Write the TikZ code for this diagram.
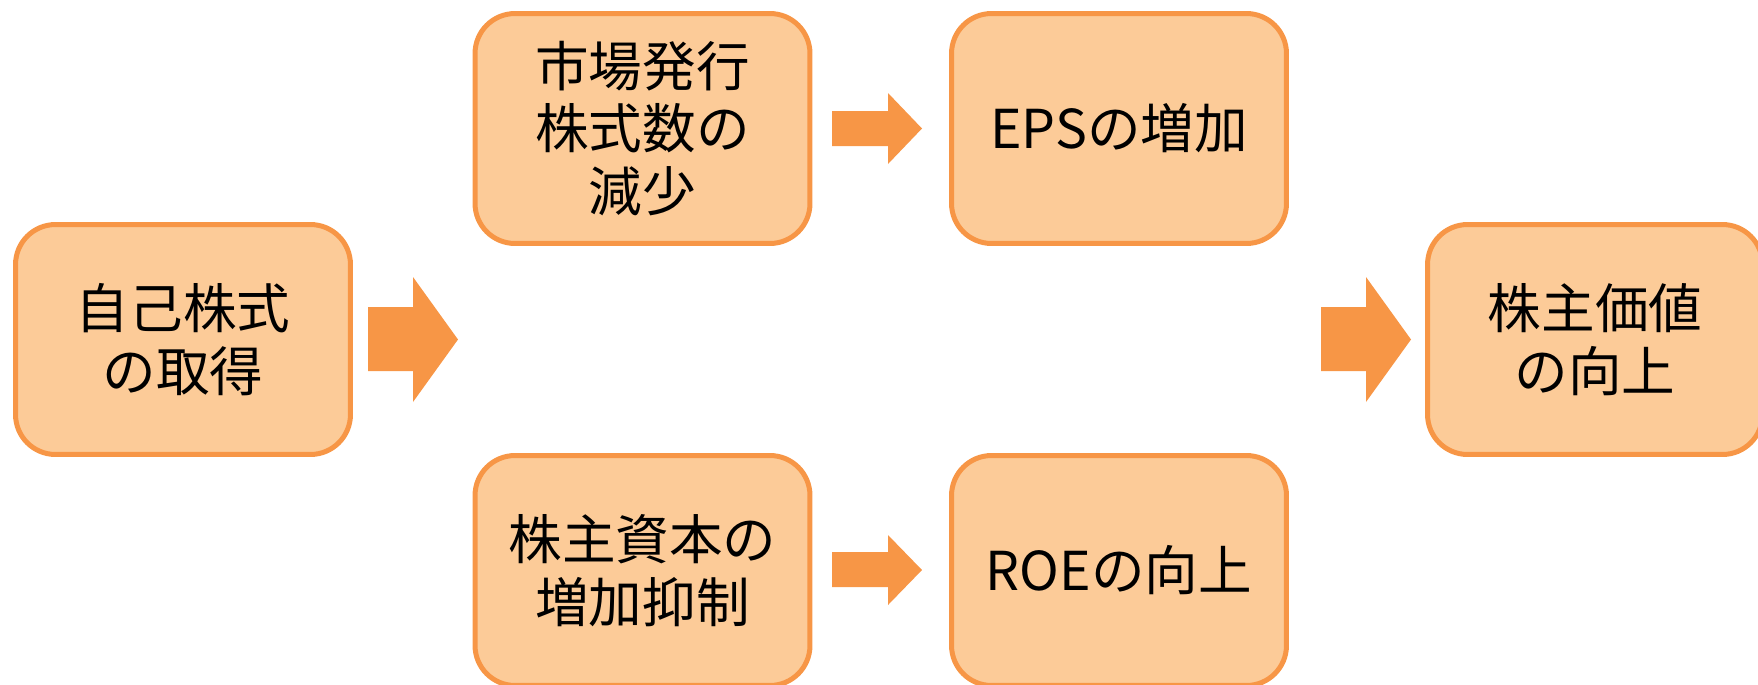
\documentclass[tikz,border=0pt]{standalone}
\usepackage{fontspec}
\newfontfamily\cjk{Noto Sans CJK JP}
\definecolor{boxfill}{RGB}{252,203,152}
\definecolor{boxline}{RGB}{247,150,70}
\tikzstyle{block} = [draw=boxline, fill=boxfill, line width=0.1cm, rectangle,
    rounded corners=0.8cm, minimum width=6.7cm, minimum height=4.6cm,
    align=center, font=\cjk\fontsize{30.5}{35.5}\selectfont]
\tikzstyle{blockarrow} = [fill=boxline]

\begin{document}
\begin{tikzpicture}[x=0.02cm, y=-0.02cm]
    \useasboundingbox (0,0) rectangle (1758,684);
    \node [block] (buyback) at (183,339.5) {自己株式\\の取得};
    \node [block] (shares)  at (642.5,128.5) {市場発行\\株式数の\\減少};
    \node [block] (eps)     at (1119,128.5) {EPSの増加};
    \node [block] (equity)  at (642.5,570.5) {株主資本の\\増加抑制};
    \node [block] (roe)     at (1119,570.5) {ROEの向上};
    \node [block] (value)   at (1595,339.5) {株主価値\\の向上};

    % big arrows
    \fill [blockarrow] (368,307) -- (413,307) -- (413,277) -- (458,339.5)
        -- (413,402) -- (413,371) -- (368,371) -- cycle;
    \fill [blockarrow] (1321,307) -- (1366,307) -- (1366,277) -- (1411,339.5)
        -- (1366,402) -- (1366,371) -- (1321,371) -- cycle;
    % small arrows
    \fill [blockarrow] (832,111) -- (888,111) -- (888,93) -- (922,128.5)
        -- (888,164) -- (888,146) -- (832,146) -- cycle;
    \fill [blockarrow] (832,552) -- (888,552) -- (888,535) -- (922,570)
        -- (888,605) -- (888,587) -- (832,587) -- cycle;
\end{tikzpicture}
\end{document}
